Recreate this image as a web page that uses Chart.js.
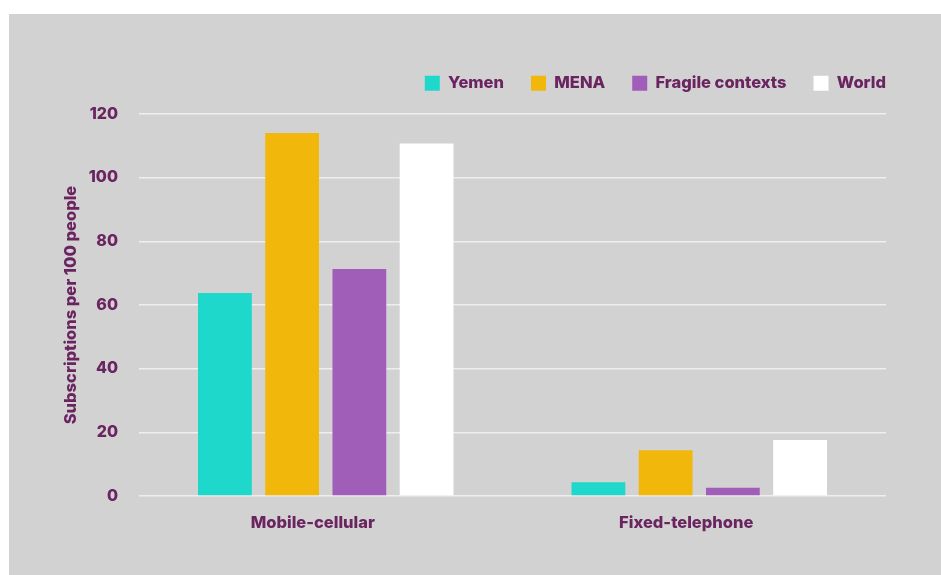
<!DOCTYPE html>
<html>
<head>
<meta charset="utf-8">
<title>Subscriptions per 100 people</title>
<script src="https://cdn.jsdelivr.net/npm/chart.js@4/dist/chart.umd.min.js"></script>
<style>
  html, body { margin: 0; padding: 0; background: #ffffff; }
  #panel {
    position: absolute; left: 9px; top: 14px;
    width: 932px; height: 561px;
    background: #d2d2d2;
  }
  #chart { display: block; }
</style>
</head>
<body>
<div id="panel"><canvas id="chart" width="932" height="561"></canvas></div>
<script>
// Subscription categories and the value for each region
const categories = ['Mobile-cellular', 'Fixed-telephone'];
const yemen   = [63.8, 4.3];
const mena    = [114.0, 14.4];
const fragile = [71.3, 2.6];
const world   = [110.7, 17.6];
const seriesNames = ['Yemen', 'MENA', 'Fragile contexts', 'World'];
const yTicks = [0, 20, 40, 60, 80, 100, 120];

const ink = '#6a2460';
const fontFamily = 'Inter, "Open Sans", sans-serif';
const legendGap = 27;

// Give the legend a fixed band so the plot starts at a set height,
// and drop the trailing gap so the last entry ends flush with the plot
const legendBand = {
  id: 'legendBand',
  beforeInit(chart) {
    const fit = chart.legend.fit;
    chart.legend.fit = function () {
      fit.bind(chart.legend)();
      this.height = 66;
    };
  },
  afterLayout(chart) {
    chart.legend.right += legendGap;
  }
};

const palette = ['#1dd8cb', '#f2b70b', '#a05eb8', '#ffffff'];
const values = [yemen, mena, fragile, world];

new Chart(document.getElementById('chart'), {
  type: 'bar',
  data: {
    labels: categories,
    datasets: seriesNames.map((name, i) => ({
      label: name,
      data: values[i],
      backgroundColor: palette[i],
      borderWidth: 0,
      categoryPercentage: 0.72,
      barPercentage: 0.8
    }))
  },
  options: {
    responsive: false,
    animation: false,
    layout: { padding: { top: 34, right: 55, bottom: 0, left: 0 } },
    plugins: {
      tooltip: { enabled: false },
      legend: {
        position: 'top',
        align: 'end',
        labels: {
          boxWidth: 15,
          boxHeight: 15,
          padding: legendGap,
          color: ink,
          font: { family: fontFamily, size: 16.5, weight: 800 }
        }
      }
    },
    scales: {
      x: {
        grid: { display: false, drawTicks: false },
        border: { display: false },
        ticks: {
          color: ink,
          padding: 17,
          labelOffset: -13,
          font: { family: fontFamily, size: 16.5, weight: 800 }
        },
        afterFit(scale) { scale.height = 79; }
      },
      y: {
        min: 0,
        max: 120,
        afterBuildTicks(scale) { scale.ticks = yTicks.map(v => ({ value: v })); },
        grid: { color: '#eeeeee', lineWidth: 1.5, drawTicks: false },
        border: { display: false },
        ticks: {
          color: ink,
          padding: 21,
          font: { family: fontFamily, size: 16, weight: 800 }
        },
        title: {
          display: true,
          text: 'Subscriptions per 100 people',
          color: ink,
          padding: { top: 52, bottom: 0 },
          font: { family: fontFamily, size: 16.5, weight: 800 }
        },
        afterFit(scale) { scale.width = 130; }
      }
    }
  },
  plugins: [legendBand]
});
</script>
</body>
</html>
